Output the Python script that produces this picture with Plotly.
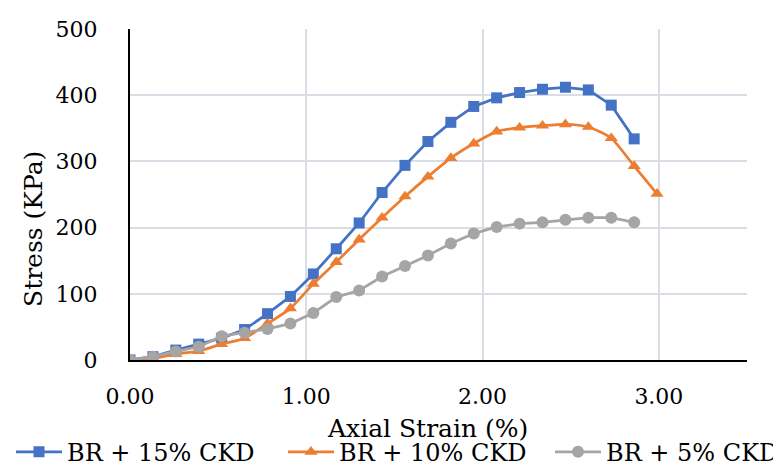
import plotly.graph_objects as go

# ---- data ----
strain_15 = [0.00, 0.13, 0.26, 0.39, 0.52, 0.65, 0.78, 0.91, 1.04, 1.17, 1.30, 1.43,
             1.56, 1.69, 1.82, 1.95, 2.08, 2.21, 2.34, 2.47, 2.60, 2.73, 2.86]
stress_15 = [0, 5, 15, 24, 33, 46, 70, 96, 130, 168, 207, 253,
             294, 330, 359, 383, 396, 404, 409, 412, 408, 385, 334]

strain_10 = [0.00, 0.13, 0.26, 0.39, 0.52, 0.65, 0.78, 0.91, 1.04, 1.17, 1.30, 1.43,
             1.56, 1.69, 1.82, 1.95, 2.08, 2.21, 2.34, 2.47, 2.60, 2.73, 2.86, 2.99]
stress_10 = [0, 2.5, 9, 13.5, 24, 33, 55, 78, 115, 148, 182, 215,
             247, 277, 305, 327, 345, 351, 354, 356, 352, 335, 293, 251]

strain_5 = [0.00, 0.13, 0.26, 0.39, 0.52, 0.65, 0.78, 0.91, 1.04, 1.17, 1.30, 1.43,
            1.56, 1.69, 1.82, 1.95, 2.08, 2.21, 2.34, 2.47, 2.60, 2.73, 2.86]
stress_5 = [0, 5, 13, 20, 36, 41, 47, 55, 71, 95, 105, 126,
            142, 158, 176, 191, 201, 206, 208, 212, 215, 215, 208]

series_names = ["BR + 15% CKD", "BR + 10% CKD", "BR + 5% CKD"]
x_tick_vals = [0, 1, 2, 3]
x_tick_text = ["0.00", "1.00", "2.00", "3.00"]
y_tick_vals = [0, 100, 200, 300, 400, 500]
x_title = "Axial Strain (%)"
y_title = "Stress (KPa)"

FONT = "DejaVu Serif"
BLUE = "#4472C4"
ORANGE = "#ED7D31"
GRAY = "#A5A5A5"
GRID = "#D9DEE6"

W, H = 781, 470
ML, MR, MT, MB = 122, 42, 21, 118
PW, PH = W - ML - MR, H - MT - MB

fig = go.Figure()
fig.add_trace(go.Scatter(
    x=strain_15, y=stress_15, name=series_names[0], mode="lines+markers",
    line=dict(color=BLUE, width=2.75),
    marker=dict(symbol="square", size=11, color=BLUE),
    legend="legend",
))
fig.add_trace(go.Scatter(
    x=strain_10, y=stress_10, name=series_names[1], mode="lines+markers",
    line=dict(color=ORANGE, width=2.75, shape="spline", smoothing=0.6),
    marker=dict(symbol="triangle-up", size=11.5, color=ORANGE),
    legend="legend2",
))
fig.add_trace(go.Scatter(
    x=strain_5, y=stress_5, name=series_names[2], mode="lines+markers",
    line=dict(color=GRAY, width=2.75),
    marker=dict(symbol="circle", size=12, color=GRAY),
    legend="legend3",
))

def legend_at(x_px):
    return dict(
        orientation="h",
        xref="container", x=x_px / W, xanchor="left",
        yref="container", y=0.055, yanchor="middle",
        font=dict(family=FONT, size=24, color="black"),
        itemwidth=46, bgcolor="rgba(0,0,0,0)", borderwidth=0,
    )

fig.update_layout(
    width=W, height=H,
    margin=dict(l=ML, r=MR, t=MT, b=MB, autoexpand=False),
    paper_bgcolor="white", plot_bgcolor="white",
    font=dict(family=FONT, color="black"),
    showlegend=True,
    legend=legend_at(3),
    legend2=legend_at(275),
    legend3=legend_at(542),
    xaxis=dict(
        range=[0, 3.5], tickvals=x_tick_vals, ticktext=x_tick_text,
        showgrid=True, gridcolor=GRID, gridwidth=1.5,
        showline=True, linecolor="black", linewidth=2,
        zeroline=False, ticks="",
        tickfont=dict(family=FONT, size=22, color="black"),
        ticklabelstandoff=16,
    ),
    yaxis=dict(
        range=[0, 500], tickvals=y_tick_vals,
        showgrid=True, gridcolor=GRID, gridwidth=1.5,
        showline=True, linecolor="black", linewidth=2,
        zeroline=False, ticks="",
        tickfont=dict(family=FONT, size=22, color="black"),
        ticklabelstandoff=26,
    ),
    annotations=[
        dict(text=x_title, xref="paper", yref="paper",
             x=(419 - ML) / PW, y=(H - MB - 420) / PH,
             xanchor="center", yanchor="middle", showarrow=False,
             font=dict(family=FONT, size=25, color="black")),
        dict(text=y_title, xref="paper", yref="paper",
             x=(25 - ML) / PW, y=(H - MB - 221) / PH,
             xanchor="center", yanchor="middle", showarrow=False, textangle=-90,
             font=dict(family=FONT, size=25, color="black")),
    ],
)

fig.write_html("out.html")
